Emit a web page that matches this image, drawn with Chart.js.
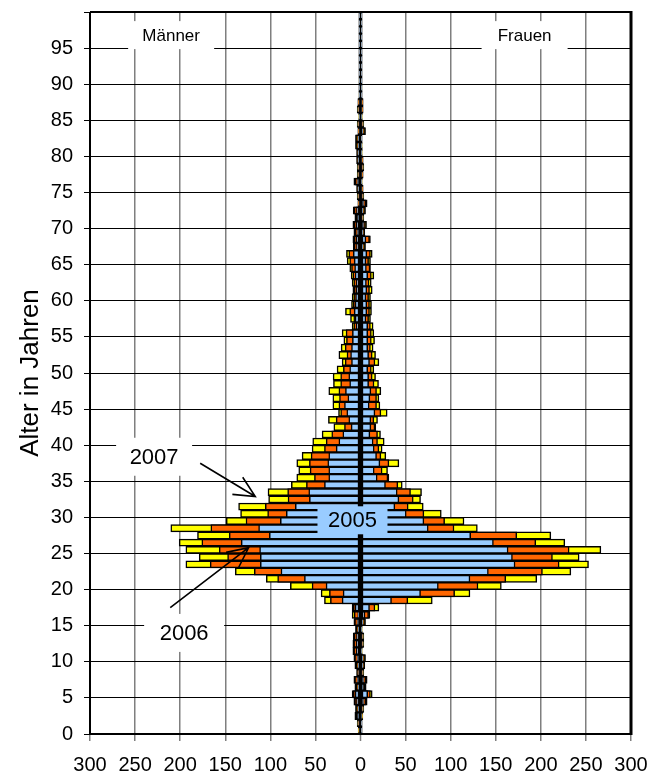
<!DOCTYPE html>
<html><head><meta charset="utf-8">
<script src="https://cdn.jsdelivr.net/npm/chart.js@4.4.1/dist/chart.umd.min.js"></script>
<style>html,body{margin:0;padding:0;background:#fff}#wrap{width:650px;height:776px}</style>
</head><body><div id="wrap"><canvas id="c" width="650" height="776"></canvas></div>
<script>
// Ages 0..99 (categories)
const ages = Array.from({length: 100}, (_, i) => String(i));
const xTicks = [-300,-250,-200,-150,-100,-50,0,50,100,150,200,250,300];
const yTicks = [0,5,10,15,20,25,30,35,40,45,50,55,60,65,70,75,80,85,90,95];

// Männer
const men2007 = [2.6,3.7,6.3,5.6,7.4,9.3,6.3,7.4,4.4,6.3, 7.4,8.5,8.5,8.1,5.6,7.4,9.3,9.3,40,43.7,
 77.8,104.5,138.9,193.7,178.9,193.7,201.1,180.8,210.4,148.9, 133,135.2,101.9,102.6,76.7,70.7,68.5,70.7,64.8,53.7,
 53,42.6,29.6,35.6,24.4,30.7,30.7,35.2,30,30.4, 26,20.4,24,21.5,18.5,20.4,9.3,11.1,16.7,10,
 9.3,8.5,9.3,10.4,11.9,14.8,15.6,8.1,8.5,7.4, 8.5,6.3,8.1,3,3.7,4.4,7.4,3.7,3.7,4.4,
 4.4,5.6,5.6,3,3.7,2,3.7,3,1.5,1, 1.5,1,1,0.5,1,0.5,0.5,1,0.5,0.5];
const men2006 = [2,3,5,4.5,6.5,8,5,6.5,3.5,5, 6.5,7.5,7.5,7,5,6.5,7,8,33.4,34.5,
 53.7,91.9,117.8,166.7,147.4,156.7,176,145.6,166,127, 103,105.6,80.4,80.8,60,51.1,55.9,56.7,54.8,40,
 38.1,31.9,17.8,27,22,24,23.3,24,22,22, 19,17,15,17,15.6,16,7.5,7.5,12,8,
 7.5,7,7.5,8.5,10,12,13,7,7,6, 7,5,7,2.5,3,3.5,6,3,3,3.5,
 3.5,4.5,4.5,2.5,3,1.5,3,2.5,1,1, 1,0.5,1,0.5,0.5,0.5,0.5,0.5,0.5,0.5];
const men2005 = [1.5,2,3.5,3,4.5,6,3,4,2,3, 4,5,5,4.5,3,4,3,6,20.4,19.3,
 38.2,62.2,88.2,111.1,111.1,111.9,132.3,101.1,113,88.9, 82.3,72.3,56.7,57.4,40,35.2,35.2,36.3,35.2,27,
 24,19.6,10.4,13,15.2,17.8,14,16.7,12,13, 12,10,11,10,9,9,5,6,7,6,
 5.5,5,5,6,6.5,7,8,4.5,5,4, 5,3.5,4.5,1.5,2,2.5,4,2,2,2.5,
 2.5,3,3,1.5,2,1,2,1.5,0.5,0.5, 0.5,0.5,0.5,0.5,0.5,0.5,0.5,0.5,0.5,0.5];
// Frauen
const women2007 = [0.5,0.7,2.6,3.7,7.4,13,6.3,7.4,3.7,4.8, 5.6,1.9,3.7,3.7,1.9,5.6,10.4,20.4,79.6,121.4,
 156.2,195.5,233.3,252.9,242.5,266.6,226.6,211.1,129.6,114.8, 89.6,69.6,66.6,67.7,46.3,31.5,30,42.6,28.1,24,
 26.3,22.2,17,18.9,29.6,21.5,20.4,22.6,20,16.7, 14.8,20.4,16.7,14,15.6,14.8,14,11.1,12.2,12.2,
 11.1,13,11.9,14.8,11.1,11.1,13,5.6,11,4.8, 6.7,3.7,5.6,7.4,3.7,3,1.9,3,3.7,3,
 1.9,1.9,1,5.6,3.7,2,3,3,1,1.5, 1,1,0.5,1,0.5,0.5,1,0.5,0.5,0.5];
const women2006 = [0.3,0.5,2,3,6,11,5,6,3,4, 4.5,1.5,3,3,1.5,4.5,9,16,52.5,104.4,
 130.3,161.1,201.8,220.3,212.9,231.4,194.4,173.3,103.7,93.3, 70.3,52.9,58.5,55.5,41.4,30.4,24,31.5,22.6,20.4,
 18.9,18.9,16,14.8,22.6,17.8,17.8,17.8,15,13, 12,16,13,11,12,12,11,9,10,10,
 9,10,9.5,12,10.5,9,11,4.5,10,4, 5.5,3,4.5,6,3,2.5,1.5,2.5,3,2.5,
 1.5,1.5,0.7,4.5,3,1.5,2.5,2.5,0.7,1, 0.7,0.7,0.5,0.7,0.5,0.5,0.7,0.5,0.5,0.5];
const women2005 = [0.2,0.3,1.2,2,4,8,3.5,4,2,3, 3,1,2,2,1,3,5,10,34.4,66.6,
 86.3,121.4,141.8,171.4,168.5,163.7,147.4,122.2,75.1,70.3, 50.7,38.1,42.6,40.7,27.7,18.5,15.2,21.5,17.8,15.2,
 14,10.4,11.5,11.5,16,9.6,10.4,11.5,9,9, 8,10,9,8,8,8,8,6,7,7,
 6,7,6.5,8,6.5,6,7,3,6,3, 4,2,3,4,2,1.5,1,1.5,2,1.5,
 1,1,0.5,3,2,1,1.5,1.5,0.5,0.5, 0.5,0.5,0.5,0.5,0.5,0.5,0.5,0.5,0.5,0.5];

const FONT = "'Liberation Sans', Arial, sans-serif";
const COL = {y2005: '#99CCFF', y2006: '#FF6600', y2007: '#FFFF00'};

function ds(label, arr, color, sign) {
  return {
    label, data: arr.map(v => sign * v),
    backgroundColor: color, borderColor: '#000', borderWidth: 1.5, borderSkipped: false,
    xAxisID: 'x', yAxisID: 'y', grouped: false, categoryPercentage: 1, barPercentage: 1
  };
}

// Annotations (positions in data units: x = value, y = age)
const noteBoxes = [
  {text: 'Männer', x: -210, y: 96.8, w: 86, h: 28, size: 17, bg: '#fff'},
  {text: 'Frauen', x: 182, y: 96.8, w: 86, h: 28, size: 17, bg: '#fff'},
  {text: '2007', x: -228.9, y: 38.4, w: 76, h: 38, size: 22, bg: '#fff'},
  {text: '2006', x: -195.6, y: 14.0, w: 80, h: 38, size: 22, bg: '#fff'},
  {text: '2005', x: -8.9, y: 29.6, w: 70, h: 28, size: 22, bg: '#99CCFF'}
];
const noteArrows = [
  {x0: -177.8, y0: 37.5, x1: -116.7, y1: 32.9},
  {x0: -211, y0: 17.5, x1: -124.1, y1: 25.8}
];

const notesPlugin = {
  id: 'notes',
  afterDatasetsDraw(chart) {
    const ctx = chart.ctx, sx = chart.scales.x, sy = chart.scales.y2;
    const a = chart.chartArea;
    ctx.save();
    // frame
    ctx.strokeStyle = '#000';
    ctx.lineWidth = 2;
    ctx.beginPath();
    ctx.moveTo(a.left, a.top); ctx.lineTo(a.right, a.top);
    ctx.moveTo(a.left, a.top); ctx.lineTo(a.left, a.bottom); ctx.lineTo(a.right, a.bottom);
    ctx.stroke();
    ctx.lineWidth = 3;
    ctx.beginPath(); ctx.moveTo(a.right, a.top - 1); ctx.lineTo(a.right, a.bottom + 1); ctx.stroke();
    // boxes + texts
    noteBoxes.forEach(n => {
      const cx = sx.getPixelForValue(n.x), cy = sy.getPixelForValue(n.y);
      ctx.fillStyle = n.bg;
      ctx.fillRect(cx - n.w / 2, cy - n.h / 2, n.w, n.h);
      ctx.fillStyle = '#000';
      ctx.font = n.size + 'px ' + FONT;
      ctx.textAlign = 'center';
      ctx.textBaseline = 'middle';
      ctx.fillText(n.text, cx, cy + 1);
    });
    // arrows
    ctx.strokeStyle = '#000';
    ctx.lineWidth = 1.6;
    noteArrows.forEach(r => {
      const x0 = sx.getPixelForValue(r.x0), y0 = sy.getPixelForValue(r.y0);
      const x1 = sx.getPixelForValue(r.x1), y1 = sy.getPixelForValue(r.y1);
      const ang = Math.atan2(y1 - y0, x1 - x0), L = 23, h = 0.45;
      ctx.beginPath();
      ctx.moveTo(x0, y0); ctx.lineTo(x1, y1);
      ctx.moveTo(x1 - L * Math.cos(ang - h), y1 - L * Math.sin(ang - h));
      ctx.lineTo(x1, y1);
      ctx.lineTo(x1 - L * Math.cos(ang + h), y1 - L * Math.sin(ang + h));
      ctx.stroke();
    });
    ctx.restore();
  }
};

new Chart(document.getElementById('c'), {
  type: 'bar',
  data: {
    labels: ages,
    datasets: [
      ds('Männer 2005', men2005, COL.y2005, -1),
      ds('Frauen 2005', women2005, COL.y2005, 1),
      ds('Männer 2006', men2006, COL.y2006, -1),
      ds('Frauen 2006', women2006, COL.y2006, 1),
      ds('Männer 2007', men2007, COL.y2007, -1),
      ds('Frauen 2007', women2007, COL.y2007, 1)
    ]
  },
  options: {
    indexAxis: 'y',
    responsive: false,
    devicePixelRatio: 1,
    animation: false,
    layout: {padding: {top: 12, right: 19, left: 0, bottom: 0}},
    plugins: {legend: {display: false}, tooltip: {enabled: false}},
    scales: {
      x: {
        type: 'linear', min: xTicks[0], max: xTicks[xTicks.length - 1], offset: false,
        afterBuildTicks: s => { s.ticks = xTicks.map(v => ({value: v})); },
        afterFit: s => { s.height = 42; s.paddingLeft = 0; s.paddingRight = 0; },
        border: {display: false},
        grid: {
          offset: false,
          color: c => (c.tick && c.tick.value === 0) ? '#000' : '#7f7f7f',
          lineWidth: c => (c.tick && c.tick.value === 0) ? 3 : 1.5,
          tickLength: 7, tickColor: '#7f7f7f', tickWidth: 1.5
        },
        ticks: {color: '#000', font: {family: FONT, size: 20}, padding: 12, maxRotation: 0,
          callback: v => String(Math.abs(v))}
      },
      y: {type: 'category', reverse: true, display: false, offset: true},
      y2: {
        type: 'linear', position: 'left', min: 0, max: 100, offset: false,
        afterBuildTicks: s => { s.ticks = yTicks.concat([100]).map(v => ({value: v})); },
        afterFit: s => { s.width = 90; s.paddingTop = 0; s.paddingBottom = 0; },
        border: {display: false},
        grid: {offset: false, color: '#000', lineWidth: 1, tickLength: 6, tickColor: '#000'},
        ticks: {color: '#000', font: {family: FONT, size: 20}, padding: 11,
          callback: v => v === 100 ? '' : String(v)},
        title: {display: true, text: 'Alter in Jahren', color: '#000',
          font: {family: FONT, size: 26, weight: 'normal'}, padding: {top: 15, bottom: 0}}
      }
    }
  },
  plugins: [notesPlugin]
});
</script>
</body></html>
